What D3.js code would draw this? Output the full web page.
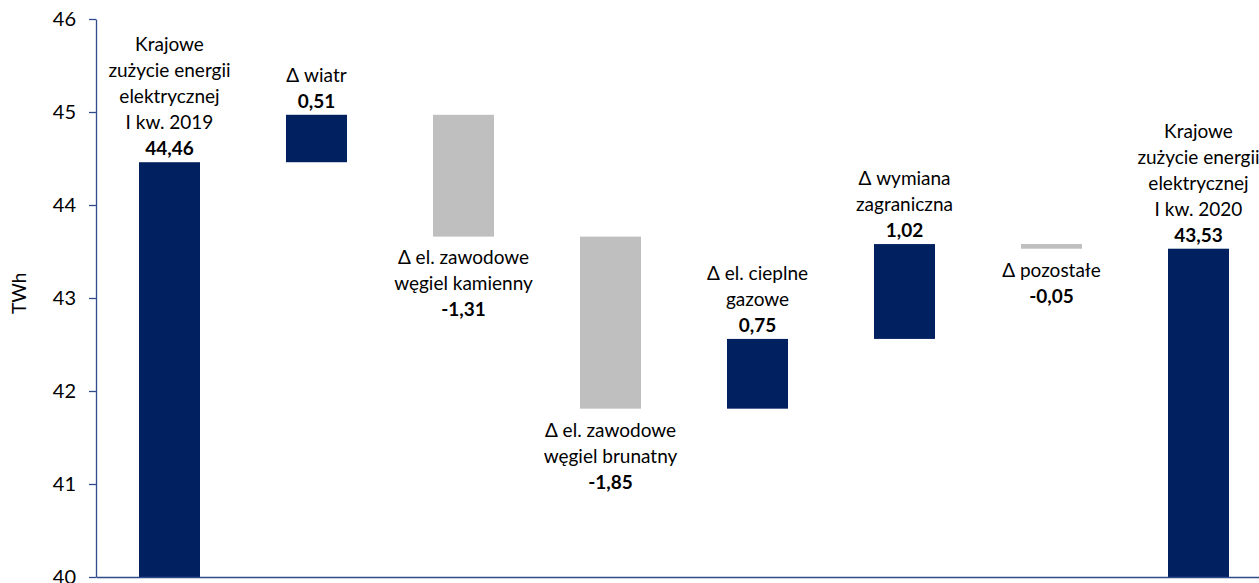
<!DOCTYPE html>
<html lang="pl">
<head>
<meta charset="utf-8">
<script src="https://cdn.jsdelivr.net/npm/d3@7/dist/d3.min.js"></script>
<style>
  html, body { margin: 0; padding: 0; background: #ffffff; }
  svg { display: block; font-family: Lato, "Open Sans", sans-serif; }
</style>
</head>
<body>
<svg id="chart" width="1259" height="583"></svg>
<script>
// Bilans zmian krajowego zużycia energii elektrycznej, I kw. 2019 -> I kw. 2020 (TWh)
const labelLines = [
  ["Krajowe", "zużycie energii", "elektrycznej", "I kw. 2019"],
  ["Δ wiatr"],
  ["Δ el. zawodowe", "węgiel kamienny"],
  ["Δ el. zawodowe", "węgiel brunatny"],
  ["Δ el. cieplne", "gazowe"],
  ["Δ wymiana", "zagraniczna"],
  ["Δ pozostałe"],
  ["Krajowe", "zużycie energii", "elektrycznej", "I kw. 2020"]
];
const values = [44.46, 0.51, -1.31, -1.85, 0.75, 1.02, -0.05, 43.53];
const kinds = ["total", "delta", "delta", "delta", "delta", "delta", "delta", "total"];
const yTicks = [40, 41, 42, 43, 44, 45, 46];
const yUnit = "TWh";

const width = 1259, height = 583;
const margin = { left: 96, top: 19, bottom: 6 };
const axisMin = 40, axisMax = 46;

const navy = "#002060";
const grey = "#bfbfbf";
const axisColor = "#2f4b8c";
const fontSize = 19;
const lineGap = 26;

const fmt = d3.formatLocale({ decimal: ",", thousands: " ", grouping: [3], currency: ["", " zł"], minus: "-" }).format(".2f");

// Running totals: each delta floats between the previous level and the new one
let level = 0;
const bars = values.map((v, i) => {
  let lo, hi;
  if (kinds[i] === "total") {
    lo = axisMin; hi = v; level = v;
  } else {
    const next = level + v;
    lo = Math.min(level, next); hi = Math.max(level, next);
    level = next;
  }
  return { i, value: v, kind: kinds[i], lo, hi, lines: labelLines[i] };
});

const svg = d3.select("#chart");

const x = d3.scaleBand()
  .domain(d3.range(values.length))
  .range([margin.left, margin.left + 8 * 147])
  .paddingInner(0.585)
  .paddingOuter(0.2925);

const y = d3.scaleLinear()
  .domain([axisMin, axisMax])
  .range([height - margin.bottom, margin.top]);

// Bars
svg.append("g")
  .selectAll("rect")
  .data(bars)
  .join("rect")
  .attr("x", d => x(d.i))
  .attr("width", x.bandwidth())
  .attr("y", d => y(d.hi))
  .attr("height", d => Math.max(1, y(d.lo) - y(d.hi)))
  .attr("fill", d => (d.kind === "delta" && d.value < 0) ? grey : navy);

// Axes
const yAxis = svg.append("g")
  .attr("transform", `translate(${margin.left},0)`)
  .call(d3.axisLeft(y).tickValues(yTicks).tickFormat(d3.format("d")).tickSize(7).tickSizeOuter(0).tickPadding(13));
yAxis.selectAll("path, line").attr("stroke", axisColor).attr("stroke-width", 1.3);
yAxis.selectAll("text").attr("fill", "#000").style("font-size", "20px").style("font-family", "Lato, sans-serif");

const xAxis = svg.append("g")
  .attr("transform", `translate(0,${y(axisMin)})`)
  .call(d3.axisBottom(x).tickSize(0).tickSizeOuter(0).tickFormat(""));
xAxis.selectAll("path").attr("stroke", axisColor).attr("stroke-width", 1.3);

svg.append("text")
  .attr("transform", `translate(26,${y(43.05)}) rotate(-90)`)
  .attr("text-anchor", "middle")
  .style("font-size", fontSize + "px")
  .text(yUnit);

// Labels: names and value above rising bars, below falling ones
const capHalf = fontSize * 0.36;
const labels = svg.append("g").attr("text-anchor", "middle").style("font-size", fontSize + "px");
bars.forEach(d => {
  const cx = x(d.i) + x.bandwidth() / 2;
  const g = labels.append("g");
  if (d.kind === "delta" && d.value < 0) {
    const first = y(d.lo) + 21 + capHalf;
    d.lines.forEach((t, k) => g.append("text").attr("x", cx).attr("y", first + k * lineGap).text(t));
    g.append("text").attr("x", cx).attr("y", first + d.lines.length * lineGap)
      .attr("font-weight", 700).text(fmt(d.value));
  } else {
    const base = y(d.hi) - 14 + capHalf;
    g.append("text").attr("x", cx).attr("y", base).attr("font-weight", 700).text(fmt(d.value));
    const n = d.lines.length;
    d.lines.forEach((t, k) => g.append("text").attr("x", cx).attr("y", base - (n - k) * lineGap).text(t));
  }
});
</script>
</body>
</html>
